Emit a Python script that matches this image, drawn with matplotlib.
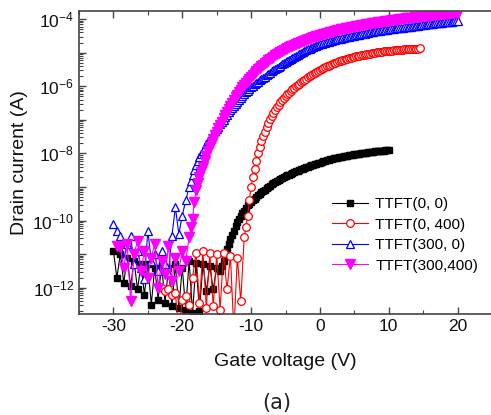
import numpy as np
import matplotlib
matplotlib.use("Agg")
import matplotlib.pyplot as plt
from matplotlib.ticker import LogLocator, FuncFormatter, MultipleLocator, NullFormatter

plt.rcParams['font.family'] = ['Liberation Sans', 'DejaVu Sans']
plt.rcParams['mathtext.default'] = 'regular'
plt.rcParams['axes.unicode_minus'] = False

# gate sweeps: off-state part read every 0.5 V, on-state part every 0.25 V
paso_off = 0.5
paso_on = 0.25

etiquetas = ['TTFT(0, 0)', 'TTFT(0, 400)', 'TTFT(300, 0)', 'TTFT(300,400)']

# log10 of drain current (A)
# TTFT(0, 0)
inicio_off_00, inicio_on_00 = -30.0, -14.5
off_00 = [
    -10.9, -11.7, -11.0, -11.85, -11.1, -11.95, -11.2, -12.05, -11.3, -12.2,
    -11.3, -12.5, -11.4, -12.35, -11.3, -12.45, -11.4, -12.55, -11.3, -12.6,
    -11.4, -12.65, -11.2, -12.75, -11.25, -12.7, -11.3, -12.1, -11.35, -12.05,
    -11.4,
]
on_00 = [
    -11.5, -11.35, -11.2, -11.02, -10.85, -10.7, -10.55, -10.42, -10.3, -10.17,
    -10.05, -9.95, -9.85, -9.77, -9.7, -9.62, -9.55, -9.5, -9.45, -9.4,
    -9.35, -9.3, -9.25, -9.2, -9.16, -9.12, -9.08, -9.04, -9.0, -8.96,
    -8.92, -8.89, -8.86, -8.83, -8.8, -8.77, -8.74, -8.71, -8.68, -8.655,
    -8.63, -8.605, -8.58, -8.555, -8.53, -8.51, -8.49, -8.47, -8.45, -8.43,
    -8.41, -8.39, -8.37, -8.355, -8.34, -8.32, -8.3, -8.285, -8.27, -8.255,
    -8.24, -8.225, -8.21, -8.195, -8.18, -8.165, -8.15, -8.14, -8.13, -8.12,
    -8.11, -8.1, -8.09, -8.08, -8.07, -8.06, -8.05, -8.04, -8.03, -8.025,
    -8.02, -8.01, -8.0, -7.99, -7.98, -7.975, -7.97, -7.96, -7.955, -7.945,
    -7.94, -7.935, -7.93, -7.925, -7.92, -7.915, -7.91, -7.905, -7.9,
]

# TTFT(0, 400)
inicio_off_0400, inicio_on_0400 = -23.0, -10.75
off_0400 = [
    -12.0, -12.1, -12.05, -12.2, -12.15, -13.3, -12.35, -12.25, -12.5, -11.7,
    -10.95, -12.45, -10.9, -12.6, -10.95, -12.55, -11.0, -12.65, -10.95, -12.05,
    -11.05, -13.3, -11.1, -12.4, -10.5,
]
on_0400 = [
    -10.2, -9.85, -9.4, -9.0, -8.7, -8.45, -8.22, -8.0, -7.8, -7.62,
    -7.48, -7.35, -7.21, -7.08, -6.98, -6.88, -6.79, -6.7, -6.62, -6.55,
    -6.48, -6.42, -6.36, -6.3, -6.245, -6.19, -6.14, -6.09, -6.045, -6.0,
    -5.96, -5.92, -5.88, -5.84, -5.805, -5.77, -5.735, -5.7, -5.665, -5.63,
    -5.6, -5.57, -5.54, -5.51, -5.485, -5.46, -5.435, -5.41, -5.385, -5.36,
    -5.34, -5.32, -5.3, -5.28, -5.26, -5.24, -5.225, -5.21, -5.195, -5.18,
    -5.165, -5.15, -5.135, -5.12, -5.11, -5.1, -5.09, -5.08, -5.07, -5.06,
    -5.05, -5.04, -5.03, -5.02, -5.01, -5.0, -4.995, -4.99, -4.98, -4.97,
    -4.965, -4.96, -4.955, -4.95, -4.945, -4.94, -4.935, -4.93, -4.925, -4.92,
    -4.915, -4.91, -4.905, -4.9, -4.9, -4.895, -4.89, -4.89, -4.885, -4.88,
    -4.88, -4.875,
]

# TTFT(300, 0)
inicio_off_3000, inicio_on_3000 = -30.0, -18.75
off_3000 = [
    -10.1, -10.3, -10.45, -11.15, -10.7, -10.45, -11.3, -10.9, -11.4, -11.75,
    -10.3, -11.2, -11.0, -11.5, -10.9, -11.3, -11.55, -10.45, -9.6, -10.4,
    -9.85, -9.4, -9.0,
]
on_3000 = [
    -8.82, -8.65, -8.5, -8.35, -8.23, -8.12, -8.02, -7.92, -7.82, -7.73,
    -7.64, -7.55, -7.47, -7.4, -7.33, -7.27, -7.2, -7.13, -7.06, -6.99,
    -6.92, -6.85, -6.78, -6.71, -6.64, -6.58, -6.52, -6.46, -6.4, -6.34,
    -6.28, -6.23, -6.18, -6.13, -6.08, -6.03, -5.98, -5.94, -5.9, -5.86,
    -5.82, -5.78, -5.745, -5.71, -5.67, -5.63, -5.595, -5.56, -5.525, -5.49,
    -5.455, -5.42, -5.385, -5.35, -5.315, -5.28, -5.25, -5.22, -5.19, -5.16,
    -5.13, -5.1, -5.07, -5.04, -5.01, -4.98, -4.955, -4.93, -4.905, -4.88,
    -4.855, -4.83, -4.81, -4.79, -4.77, -4.75, -4.735, -4.72, -4.705, -4.69,
    -4.675, -4.66, -4.645, -4.63, -4.615, -4.6, -4.59, -4.58, -4.565, -4.55,
    -4.54, -4.53, -4.52, -4.51, -4.5, -4.49, -4.48, -4.47, -4.46, -4.45,
    -4.44, -4.43, -4.42, -4.41, -4.4, -4.39, -4.38, -4.37, -4.365, -4.36,
    -4.35, -4.34, -4.335, -4.33, -4.32, -4.31, -4.305, -4.3, -4.29, -4.28,
    -4.275, -4.27, -4.265, -4.26, -4.25, -4.24, -4.235, -4.23, -4.225, -4.22,
    -4.21, -4.2, -4.195, -4.19, -4.185, -4.18, -4.17, -4.16, -4.155, -4.15,
    -4.145, -4.14, -4.13, -4.12, -4.115, -4.11, -4.105, -4.1, -4.095, -4.09,
    -4.085, -4.08, -4.075, -4.07, -4.065, -4.06,
]

# TTFT(300,400)
inicio_off_300400, inicio_on_300400 = -29.5, -18.75
off_300400 = [
    -10.75, -10.8, -11.4, -10.7, -12.4, -11.0, -10.6, -11.5, -10.9, -11.7,
    -11.1, -10.7, -12.0, -11.2, -11.6, -10.75, -11.8, -11.1, -11.5, -10.9,
    -11.2, -10.5,
]
on_300400 = [
    -10.2, -9.95, -9.45, -9.1, -8.88, -8.7, -8.55, -8.4, -8.24, -8.08,
    -7.94, -7.8, -7.68, -7.56, -7.45, -7.35, -7.25, -7.15, -7.05, -6.95,
    -6.855, -6.76, -6.67, -6.58, -6.495, -6.41, -6.33, -6.25, -6.175, -6.1,
    -6.03, -5.96, -5.895, -5.83, -5.77, -5.71, -5.655, -5.6, -5.55, -5.5,
    -5.45, -5.4, -5.355, -5.31, -5.27, -5.23, -5.19, -5.15, -5.115, -5.08,
    -5.045, -5.01, -4.98, -4.95, -4.92, -4.89, -4.865, -4.84, -4.815, -4.79,
    -4.765, -4.74, -4.72, -4.7, -4.68, -4.66, -4.64, -4.62, -4.6, -4.58,
    -4.56, -4.54, -4.525, -4.51, -4.495, -4.48, -4.465, -4.45, -4.435, -4.42,
    -4.405, -4.39, -4.375, -4.36, -4.35, -4.34, -4.325, -4.31, -4.3, -4.29,
    -4.28, -4.27, -4.26, -4.25, -4.24, -4.23, -4.22, -4.21, -4.2, -4.19,
    -4.18, -4.17, -4.16, -4.15, -4.14, -4.13, -4.125, -4.12, -4.11, -4.1,
    -4.09, -4.08, -4.075, -4.07, -4.06, -4.05, -4.045, -4.04, -4.03, -4.02,
    -4.015, -4.01, -4.0, -3.99, -3.985, -3.98, -3.975, -3.97, -3.965, -3.96,
    -3.95, -3.94, -3.935, -3.93, -3.925, -3.92, -3.915, -3.91, -3.905, -3.9,
    -3.89, -3.88, -3.875, -3.87, -3.865, -3.86, -3.855, -3.85, -3.845, -3.84,
    -3.835, -3.83, -3.825, -3.82, -3.815, -3.81,
]


def barrido(inicio_off, off, inicio_on, on):
    v = np.concatenate([inicio_off + paso_off * np.arange(len(off)),
                        inicio_on + paso_on * np.arange(len(on))])
    i = 10.0 ** np.array(off + on)
    return v, i


fig = plt.figure(figsize=(4.91, 4.15), dpi=100)
ax = fig.add_axes([79 / 491, 1 - 314 / 415, 413 / 491, 303 / 415])

v, i = barrido(inicio_off_00, off_00, inicio_on_00, on_00)
ax.plot(v, i, '-s', color='black', markersize=5, linewidth=0.8, label=etiquetas[0])

v, i = barrido(inicio_off_0400, off_0400, inicio_on_0400, on_0400)
ax.plot(v, i, '-o', color='red', markerfacecolor='white', markersize=5.5,
        markeredgewidth=0.9, linewidth=0.8, label=etiquetas[1])

v, i = barrido(inicio_off_3000, off_3000, inicio_on_3000, on_3000)
ax.plot(v, i, '-^', color='blue', markerfacecolor='white', markersize=6,
        markeredgewidth=0.9, linewidth=0.8, label=etiquetas[2])

v, i = barrido(inicio_off_300400, off_300400, inicio_on_300400, on_300400)
ax.plot(v, i, '-v', color='#ff00ff', markersize=6.5, linewidth=0.8, label=etiquetas[3])

ax.set_yscale('log')
ax.set_xlim(-35, 25)
ax.set_ylim(10 ** -12.78, 10 ** -3.76)

ax.xaxis.set_major_locator(MultipleLocator(10))
ax.xaxis.set_minor_locator(MultipleLocator(5))
ax.yaxis.set_major_locator(LogLocator(base=10, numticks=20))
ax.yaxis.set_minor_locator(LogLocator(base=10, subs=np.arange(2, 10), numticks=20))
ax.yaxis.set_minor_formatter(NullFormatter())


def exponente(y, pos):
    e = int(round(np.log10(y)))
    if e % 2 == 0:
        return r'$\mathregular{10^{%d}}$' % e
    return ''


ax.yaxis.set_major_formatter(FuncFormatter(exponente))

for lado in ['left', 'bottom', 'top', 'right']:
    ax.spines[lado].set_color('#444444')
    ax.spines[lado].set_linewidth(1.2)
ax.tick_params(which='both', direction='in', top=True, right=False, colors='#444444',
               labelcolor='#111111', labelsize=12.5)
ax.tick_params(which='major', length=5, width=1)
ax.tick_params(which='minor', length=3, width=0.8)

ax.set_xlabel('Gate voltage (V)', fontsize=14, labelpad=14, color='#111111')
ax.set_ylabel('Drain current (A)', fontsize=14, labelpad=3, color='#111111')

ax.legend(loc='upper left', bbox_to_anchor=(0.612, 0.385), frameon=False, fontsize=11,
          handlelength=2.4, handletextpad=0.45, labelspacing=0.42, borderpad=0,
          borderaxespad=0)

fig.text(0.563, 0.029, '(a)', ha='center', va='center', fontsize=15, color='#222222',
         family=['DejaVu Sans'])

fig.savefig('out.png', dpi=100)
